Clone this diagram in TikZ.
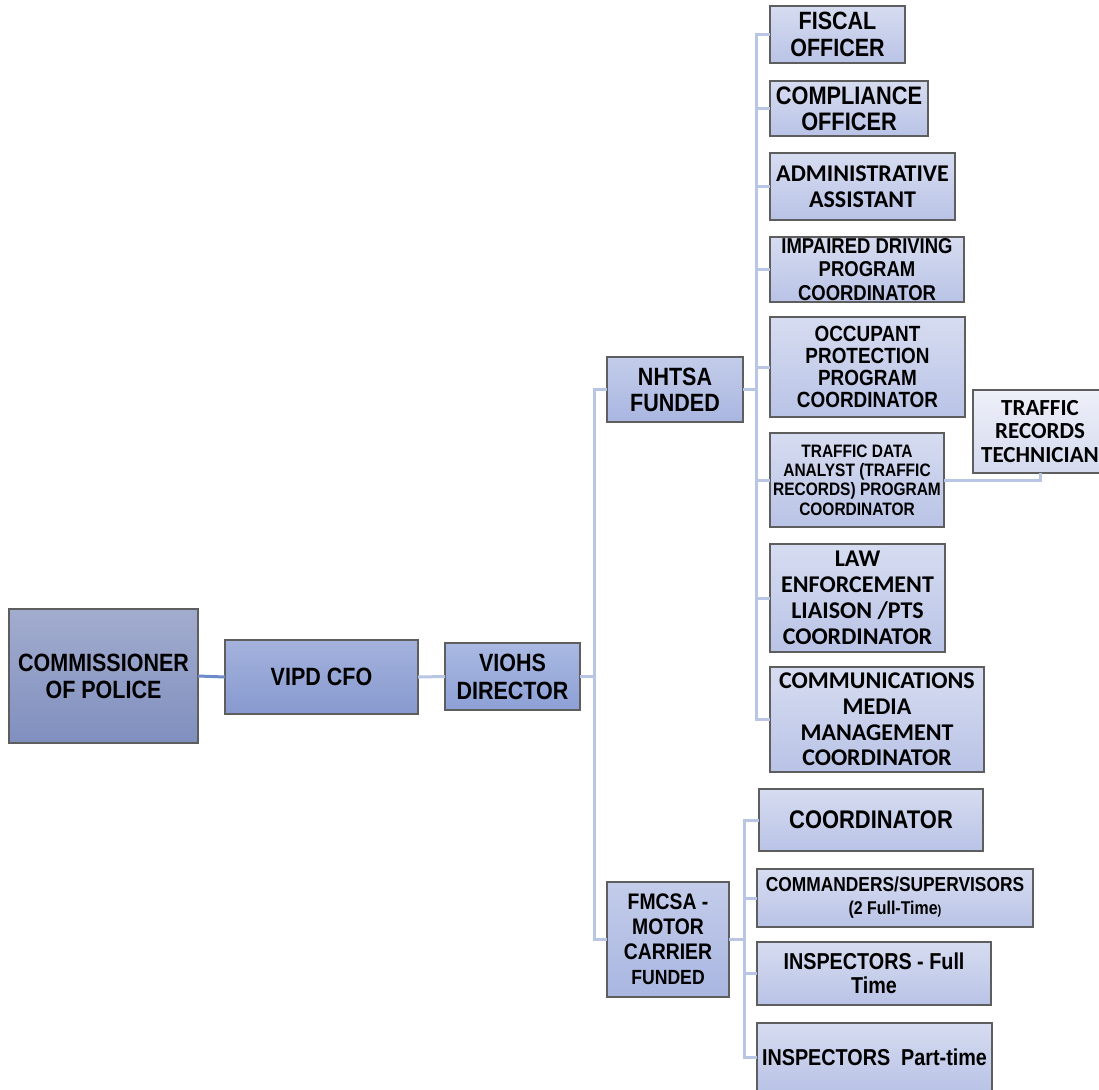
\documentclass[tikz,border=0pt]{standalone}
\usepackage{fontspec}
\newfontfamily\narrowfont[FakeStretch=0.86]{Liberation Sans}
\newfontfamily\calfont{Carlito}
\definecolor{boxgray}{HTML}{5E5E5E}
\definecolor{linkblue}{HTML}{B9C5E4}
\definecolor{linkdark}{HTML}{6D8BCB}
\definecolor{commtop}{HTML}{A2ACCE}
\definecolor{commbot}{HTML}{808FBE}
\definecolor{cfotop}{HTML}{A4B2DC}
\definecolor{cfobot}{HTML}{8799CF}
\definecolor{dirtop}{HTML}{AAB9E2}
\definecolor{dirbot}{HTML}{8DA0D6}
\definecolor{fundtop}{HTML}{C3CCEA}
\definecolor{fundbot}{HTML}{A9B6E0}
\definecolor{subtop}{HTML}{D6DCF0}
\definecolor{subbot}{HTML}{B9C3E6}
\definecolor{techtop}{HTML}{EEF0F8}
\definecolor{techbot}{HTML}{D4DAEF}

\begin{document}
\begin{tikzpicture}[x=1pt,y=-1pt,inner sep=0pt,outer sep=0pt,
orgbox/.style={draw=boxgray,line width=1.2pt,rectangle,align=center,text=black},
headbox/.style={orgbox,top color=commtop,bottom color=commbot},
cfobox/.style={orgbox,top color=cfotop,bottom color=cfobot},
dirbox/.style={orgbox,top color=dirtop,bottom color=dirbot},
fundbox/.style={orgbox,top color=fundtop,bottom color=fundbot},
staffbox/.style={orgbox,top color=subtop,bottom color=subbot},
techbox/.style={orgbox,top color=techtop,bottom color=techbot},
arial/.style 2 args={font=\narrowfont\bfseries\fontsize{#1}{#2}\selectfont},
calib/.style 2 args={font=\calfont\bfseries\fontsize{#1}{#2}\selectfont},
link/.style={draw=linkblue,line width=3pt}]

\useasboundingbox (0,0) rectangle (1099,1089);

\draw (103.5,676) node[headbox,arial={25}{27},minimum width=189,minimum height=134] (comm) {COMMISSIONER\\OF POLICE};
\draw (321.5,677) node[cfobox,arial={25}{27},minimum width=193,minimum height=74] (cfo) {VIPD CFO};
\draw (512.5,676.5) node[dirbox,arial={25}{28},minimum width=135,minimum height=67] (viohs) {VIOHS\\DIRECTOR};
\draw (675,389.5) node[fundbox,arial={25}{26},minimum width=136,minimum height=65] (nhtsa) {NHTSA\\FUNDED};
\draw (668,939.5) node[fundbox,arial={22.5}{25},minimum width=122,minimum height=115] (fmcsa) {FMCSA -\\MOTOR\\CARRIER\\{\fontsize{20.5}{22}\selectfont FUNDED}};

\draw (837.5,34.5) node[staffbox,arial={25}{26.5},minimum width=135,minimum height=57] (fiscal) {FISCAL\\OFFICER};
\draw (849,108.5) node[staffbox,arial={25.3}{26},minimum width=158,minimum height=55] (compl) {COMPLIANCE\\OFFICER};
\draw (862.5,186.5) node[staffbox,calib={24}{26.5},minimum width=185,minimum height=67] (admin) {ADMINISTRATIVE\\ASSISTANT};
\draw (867,269.5) node[staffbox,arial={21.5}{23.3},minimum width=194,minimum height=65] (impaired) {IMPAIRED DRIVING\\PROGRAM\\COORDINATOR};
\draw (867.5,367) node[staffbox,arial={22}{22},minimum width=195,minimum height=100] (occupant) {OCCUPANT\\PROTECTION\\PROGRAM\\COORDINATOR};
\draw (857,480) node[staffbox,arial={18}{19.3},minimum width=174,minimum height=94] (tda) {TRAFFIC DATA\\ANALYST (TRAFFIC\\RECORDS) PROGRAM\\COORDINATOR};
\draw (1040,431.5) node[techbox,calib={23}{23.6},minimum width=134,minimum height=83] (trt) {TRAFFIC\\RECORDS\\TECHNICIAN};
\draw (857.5,598) node[staffbox,calib={24}{26},minimum width=175,minimum height=108] (law) {LAW\\ENFORCEMENT\\LIAISON /PTS\\COORDINATOR};
\draw (877,719.5) node[staffbox,calib={24}{25.7},minimum width=214,minimum height=105] (media) {COMMUNICATIONS\\MEDIA\\MANAGEMENT\\COORDINATOR};

\draw (871,820) node[staffbox,arial={25.5}{27},minimum width=224,minimum height=62] (coord) {COORDINATOR};
\draw (895,898) node[staffbox,arial={20.2}{23},minimum width=276,minimum height=58] (cmdr) {COMMANDERS/SUPERVISORS\\{\fontsize{18.5}{20}\selectfont(2 Full-Time{\fontsize{13}{14}\selectfont)}}};
\draw (874,973.5) node[staffbox,arial={23}{24},minimum width=234,minimum height=63] (inspft) {INSPECTORS - Full\\Time};
\draw (874.5,1057) node[staffbox,arial={23}{26},minimum width=235,minimum height=68] (insppt) {INSPECTORS\ \ Part-time};

\draw[link,draw=linkdark] (comm.east) -- (cfo.west);
\draw[link] (cfo.east) -- (viohs.west);
\draw[link] (viohs.east) -- ++(14,0) |- (nhtsa.west);
\draw[link] (viohs.east) -- ++(14,0) |- (fmcsa.west);
\foreach \n in {fiscal,compl,admin,impaired,occupant,tda,law,media}
  \draw[link] (nhtsa.east) -- ++(13,0) |- (\n.west);
\foreach \n in {coord,cmdr,inspft,insppt}
  \draw[link] (fmcsa.east) -- ++(15,0) |- (\n.west);
\draw[link] (tda.east) -| (trt.south);
\end{tikzpicture}
\end{document}
